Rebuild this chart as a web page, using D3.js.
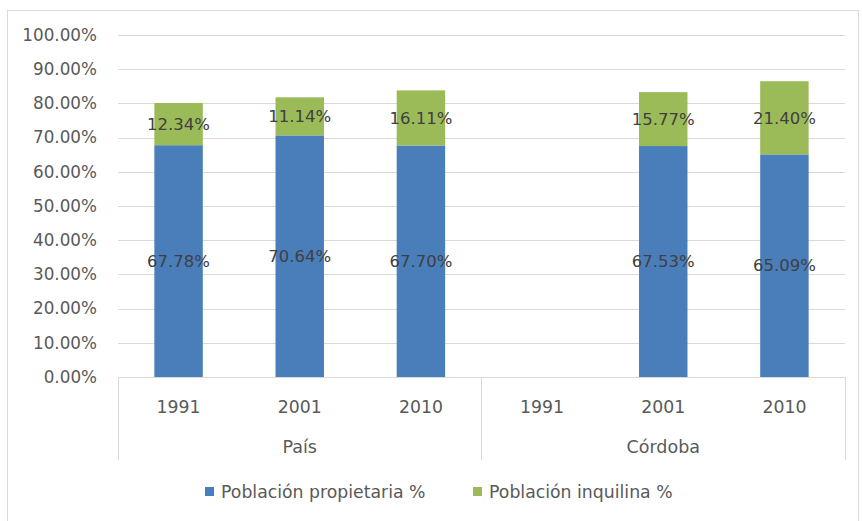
<!DOCTYPE html>
<html>
<head>
<meta charset="utf-8">
<script src="https://cdn.jsdelivr.net/npm/d3@7/dist/d3.min.js"></script>
<style>
  html, body { margin: 0; padding: 0; background: #ffffff; }
  svg { display: block; }
  text { font-family: "DejaVu Sans", Verdana, sans-serif; }
</style>
</head>
<body>
<svg id="chart" width="862" height="521"></svg>
<script>
// Grouped categories: region -> census years
const groups = ["País", "Córdoba"];
const years = ["1991", "2001", "2010"];
// Shares of population (%), in the order País 1991..2010, Córdoba 1991..2010
const propietaria = [67.78, 70.64, 67.70, null, 67.53, 65.09];
const inquilina   = [12.34, 11.14, 16.11, null, 15.77, 21.40];
const seriesNames = ["Población propietaria %", "Población inquilina %"];
const seriesColors = ["#4a7ebb", "#9bbb59"];
const yTicks = [0, 10, 20, 30, 40, 50, 60, 70, 80, 90, 100];

const svg = d3.select("#chart");
const plot = { left: 118, right: 845, top: 35, bottom: 377 };

// Chart frame
svg.append("rect")
  .attr("x", 7.5).attr("y", 10.5)
  .attr("width", 851).attr("height", 515)
  .attr("fill", "#ffffff").attr("stroke", "#d9d9d9").attr("stroke-width", 1);

// Category keys combine region and year
const cats = [];
groups.forEach(g => years.forEach(y => cats.push({ group: g, year: y, key: g + "|" + y })));
const rows = cats.map((c, i) => ({ ...c, prop: propietaria[i], inq: inquilina[i] }));

const x = d3.scaleBand()
  .domain(cats.map(c => c.key))
  .range([plot.left, plot.right])
  .paddingInner(0.6)
  .paddingOuter(0.3);

const y = d3.scaleLinear().domain([0, 100]).range([plot.bottom, plot.top]);

// Horizontal gridlines
svg.append("g")
  .selectAll("line")
  .data(yTicks.filter(t => t > 0))
  .join("line")
  .attr("x1", plot.left).attr("x2", plot.right)
  .attr("y1", d => Math.round(y(d)) + 0.5).attr("y2", d => Math.round(y(d)) + 0.5)
  .attr("stroke", "#d9d9d9").attr("stroke-width", 1);

// Y axis tick labels
const yAxis = d3.axisLeft(y)
  .tickValues(yTicks)
  .tickFormat(d => d.toFixed(2) + "%")
  .tickSize(0)
  .tickPadding(21);
const gy = svg.append("g").attr("transform", `translate(${plot.left},0)`).call(yAxis);
gy.select(".domain").remove();
gy.selectAll("text")
  .attr("fill", "#595959")
  .style("font-size", "16.8px");

// Stacked series
const stackData = rows.filter(r => r.prop != null);
const stack = d3.stack().keys(["prop", "inq"]);
const layers = stack(stackData);

const gBars = svg.append("g");
layers.forEach((layer, li) => {
  gBars.append("g")
    .attr("fill", seriesColors[li])
    .selectAll("rect")
    .data(layer)
    .join("rect")
    .attr("x", d => x(d.data.key))
    .attr("width", x.bandwidth())
    .attr("y", d => y(d[1]))
    .attr("height", d => y(d[0]) - y(d[1]));
});

// Value labels centered in each segment
layers.forEach((layer, li) => {
  gBars.append("g")
    .selectAll("text")
    .data(layer)
    .join("text")
    .attr("x", d => x(d.data.key) + x.bandwidth() / 2)
    .attr("y", d => y((d[0] + d[1]) / 2))
    .attr("dy", "0.35em")
    .attr("text-anchor", "middle")
    .attr("fill", "#404040")
    .style("font-size", "16.5px")
    .text(d => (d.data[li === 0 ? "prop" : "inq"]).toFixed(2) + "%");
});

// Category axis baseline
svg.append("line")
  .attr("x1", plot.left).attr("x2", plot.right)
  .attr("y1", plot.bottom + 0.5).attr("y2", plot.bottom + 0.5)
  .attr("stroke", "#d9d9d9");

// Year labels
const gx = svg.append("g").attr("transform", `translate(0,${plot.bottom})`)
  .call(d3.axisBottom(x).tickSize(0).tickPadding(0).tickFormat(k => k.split("|")[1]));
gx.select(".domain").remove();
gx.selectAll("text")
  .attr("y", 30).attr("dy", "0.35em")
  .attr("fill", "#595959")
  .style("font-size", "17.3px");

// Group separators and region labels
const step = x.step();
const groupBounds = groups.map((g, gi) => {
  const keys = cats.filter(c => c.group === g).map(c => c.key);
  const x0 = x(keys[0]) - x.paddingInner() * step / 2;
  const x1 = x(keys[keys.length - 1]) + x.bandwidth() + x.paddingInner() * step / 2;
  return { g, x0, x1 };
});
const sepXs = [plot.left, (groupBounds[0].x1 + groupBounds[1].x0) / 2, plot.right];
svg.append("g")
  .selectAll("line")
  .data(sepXs)
  .join("line")
  .attr("x1", d => Math.round(d) + 0.5).attr("x2", d => Math.round(d) + 0.5)
  .attr("y1", plot.bottom).attr("y2", 460)
  .attr("stroke", "#d9d9d9");

svg.append("g")
  .selectAll("text")
  .data(groupBounds)
  .join("text")
  .attr("x", d => (d.x0 + d.x1) / 2)
  .attr("y", 447)
  .attr("dy", "0.35em")
  .attr("text-anchor", "middle")
  .attr("fill", "#595959")
  .style("font-size", "17.5px")
  .text(d => d.g);

// Legend
const legendX = [205, 473];
const lg = svg.append("g");
seriesNames.forEach((name, i) => {
  lg.append("rect")
    .attr("x", legendX[i]).attr("y", 487)
    .attr("width", 9).attr("height", 9)
    .attr("fill", seriesColors[i]);
  lg.append("text")
    .attr("x", legendX[i] + 16).attr("y", 492)
    .attr("dy", "0.35em")
    .attr("fill", "#595959")
    .style("font-size", "17.3px")
    .text(name);
});
</script>
</body>
</html>
